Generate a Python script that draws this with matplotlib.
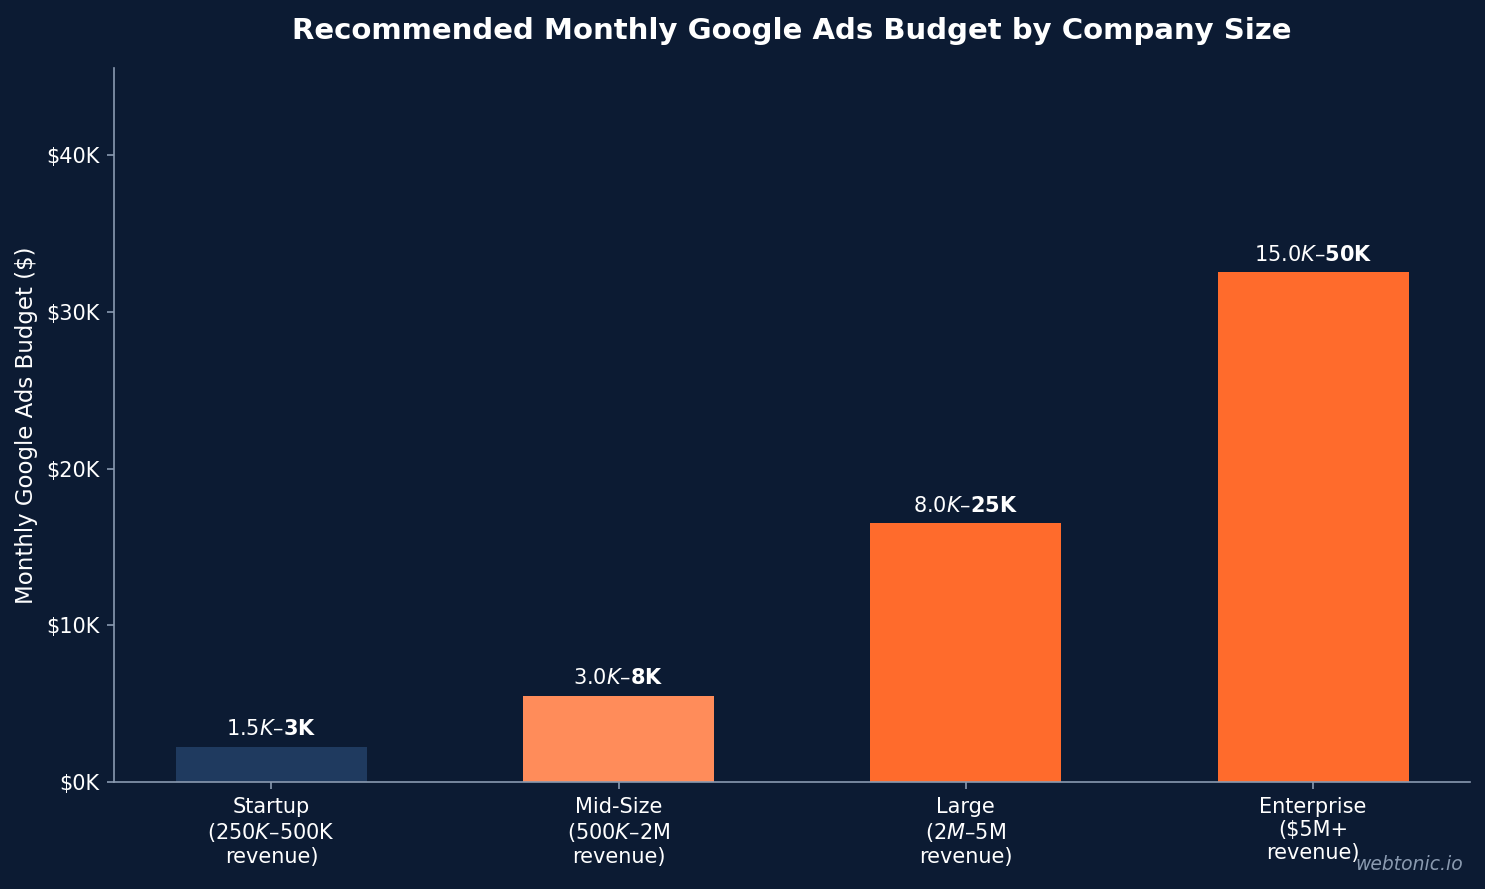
import matplotlib.pyplot as plt
import numpy as np

# company size tiers and monthly budget ranges (in $K)
categories = ["Startup\n($250K–$500K\nrevenue)", "Mid-Size\n($500K–$2M\nrevenue)",
              "Large\n($2M–$5M\nrevenue)", "Enterprise\n($5M+\nrevenue)"]
low = [1.5, 3.0, 8.0, 15.0]
high = [3, 8, 25, 50]
colors = ["#1f3a5f", "#ff8c5a", "#ff6b2c", "#ff6b2c"]

bg = "#0c1b33"
spine_col = "#8a9ab0"

mid = [(lo + hi) / 2 * 1000 for lo, hi in zip(low, high)]

fig, ax = plt.subplots(figsize=(9.9, 5.9267), dpi=150)
fig.patch.set_facecolor(bg)
ax.set_facecolor(bg)

x = np.arange(len(categories))
bars = ax.bar(x, mid, width=0.55, color=colors)

for b, lo, hi in zip(bars, low, high):
    ax.text(b.get_x() + b.get_width() / 2, b.get_height() + 500,
            f"${lo:.1f}K–${hi}K", ha="center", va="bottom",
            color="white", fontsize=10, fontweight="bold")

ax.set_xticks(x)
ax.set_xticklabels(categories, color="white", fontsize=10)
ax.set_ylim(0, max(mid) * 1.4)
ax.yaxis.set_major_formatter(plt.FuncFormatter(lambda v, p: f"${v/1000:.0f}K"))
ax.tick_params(axis="y", labelsize=10)
ax.tick_params(axis="x", colors=spine_col, labelcolor="white")
ax.tick_params(axis="y", colors=spine_col, labelcolor="white")
ax.set_ylabel("Monthly Google Ads Budget ($)", color="white", fontsize=11)
ax.set_title("Recommended Monthly Google Ads Budget by Company Size",
             color="white", fontsize=14, fontweight="bold", pad=14)

for s in ["top", "right"]:
    ax.spines[s].set_visible(False)
for s in ["left", "bottom"]:
    ax.spines[s].set_color(spine_col)

fig.text(0.985, 0.028, "webtonic.io", ha="right", va="center",
         color="#8a9ab0", fontsize=9, style="italic")

plt.subplots_adjust(left=0.077, right=0.99, bottom=0.12, top=0.923)
plt.savefig("out.png", facecolor=bg)
